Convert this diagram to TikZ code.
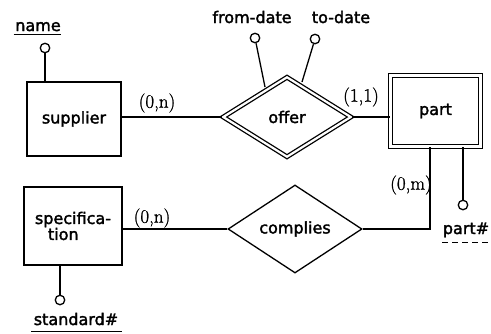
\documentclass[tikz,border=0pt]{standalone}
\usepackage{fontspec}
\setsansfont[RawFeature={embolden=2}]{DejaVu Sans}
\setmainfont[RawFeature={embolden=1.2}]{Latin Modern Roman}
\usetikzlibrary{shapes.geometric}
\begin{document}
\begin{tikzpicture}[x=1pt,y=-1pt,line width=1.3pt,
  every node/.style={font=\sffamily\fontsize{16}{18}\selectfont},
  entity/.style={draw,rectangle,inner sep=0pt},
  wentity/.style={entity,double,double distance=2.6pt},
  rel/.style={draw,diamond,inner sep=0pt,aspect=1.6},
  wrel/.style={rel,double,double distance=2.2pt},
  attr/.style={draw,circle,inner sep=0pt,minimum size=9.5pt,fill=white},
  lbl/.style={inner sep=1pt},
  card/.style={inner sep=0pt,font=\rmfamily\fontsize{19}{21}\selectfont}]
\useasboundingbox (0,0) rectangle (491,333);
% entities
\node[entity,minimum width=94pt,minimum height=74pt] (supplier) at (74,119) {supplier};
\node[wentity,minimum width=90pt,minimum height=71pt] (part) at (435.5,111) {part};
\node[entity,minimum width=98pt,minimum height=78pt,align=left] (spec) at (73,226) {specifica-\\[-2pt]\hspace*{13pt}tion};
% relationships
\node[wrel,minimum width=128pt,minimum height=80pt] (offer) at (287,117) {offer};
\node[rel,minimum width=134pt,minimum height=88pt] (complies) at (295,229) {complies};
% attributes
\node[attr] (cname) at (45,48) {};
\node[lbl,anchor=base] (name) at (38,31) {name};
\draw[line width=1pt] (name.base west) ++(0,3) -- ++(47,0);
\node[attr] (cfrom) at (255,38) {};
\node[lbl,anchor=base] (from) at (252,23) {from-date};
\node[attr] (cto) at (315,39) {};
\node[lbl,anchor=base] (to) at (341,23) {to-date};
\node[attr] (cpart) at (463,205) {};
\node[lbl,anchor=base] (partno) at (466,234) {part\#};
\draw[line width=1pt,dash pattern=on 6pt off 4pt] (442,242.5) -- (491,242.5);
\node[attr] (cstd) at (60,300) {};
\node[lbl,anchor=base] (std) at (76,325) {standard\#};
\draw[line width=1pt] (31,331.5) -- (122,331.5);
% attribute links
\draw (cname) -- (cname |- supplier.north);
\draw (cfrom) -- (265,87);
\draw (cto) -- (302,82);
\draw (cpart) -- (cpart |- part.south);
\draw (cstd) -- (cstd |- spec.south);
% relationship links
\draw (supplier.east |- offer.west) -- (offer.west);
\draw (offer.east) -- (offer.east -| part.west);
\draw (spec.east |- complies.west) -- (complies.west);
\coordinate (bend) at (430,229);
\draw (complies.east) -- (bend) -- (bend |- part.south);
% cardinalities
\node[card] (c1) at (157,103) {(0,n)};
\node[card] (c2) at (361,97) {(1,1)};
\node[card] (c3) at (152,218) {(0,n)};
\node[card] (c4) at (411,185) {(0,m)};
\end{tikzpicture}
\end{document}
